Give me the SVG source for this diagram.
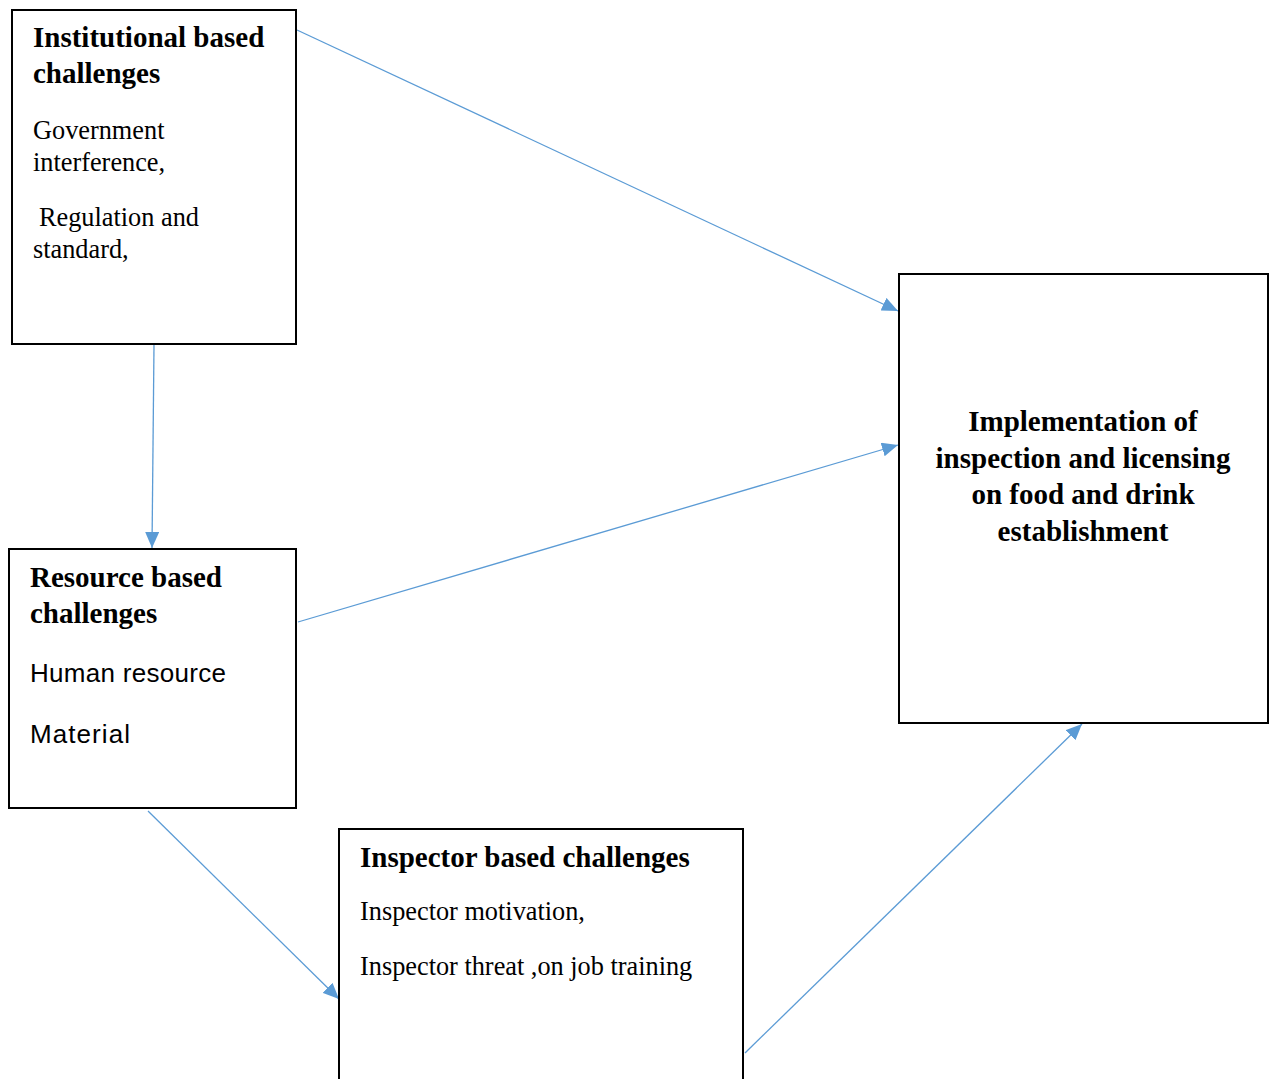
<svg xmlns="http://www.w3.org/2000/svg" width="1274" height="1079" viewBox="0 0 1274 1079">
<defs>
<marker id="arr" markerWidth="16" markerHeight="14" refX="16" refY="7" orient="auto" markerUnits="userSpaceOnUse">
<path d="M0,0 L16,7 L0,14 Z" fill="#5B9BD5"/>
</marker>
<style>
.box{fill:#fff;stroke:#000;stroke-width:2}
.h{font-family:"Liberation Serif","Times New Roman",serif;font-weight:bold;font-size:29px;fill:#000}
.b{font-family:"Liberation Serif","Times New Roman",serif;font-size:26.3px;fill:#000}
.s{font-family:"Liberation Sans",Arial,sans-serif;font-size:26px;fill:#000}
.c{stroke:#5B9BD5;stroke-width:1.3;fill:none;marker-end:url(#arr)}
</style>
</defs>
<rect width="1274" height="1079" fill="#fff"/>
<g id="connectors">
<line class="c" x1="297" y1="30" x2="898" y2="311"/>
<line class="c" x1="154" y1="345" x2="152" y2="548"/>
<line class="c" x1="298" y1="622" x2="898" y2="445"/>
<line class="c" x1="148" y1="811" x2="339" y2="999"/>
<line class="c" x1="745" y1="1053" x2="1082" y2="724"/>
</g>
<g id="institutional">
<rect class="box" x="12" y="10" width="284" height="334"/>
<text class="h" x="33" y="47">Institutional based</text>
<text class="h" x="33" y="83">challenges</text>
<text class="b" x="33" y="139">Government</text>
<text class="b" x="33" y="171">interference,</text>
<text class="b" x="39" y="226">Regulation and</text>
<text class="b" x="33" y="258">standard,</text>
</g>
<g id="resource">
<rect class="box" x="9" y="549" width="287" height="259"/>
<text class="h" x="30" y="587">Resource based</text>
<text class="h" x="30" y="623">challenges</text>
<text class="s" x="30" y="682" textLength="196">Human resource</text>
<text class="s" x="30" y="743" textLength="100">Material</text>
</g>
<g id="inspector">
<rect class="box" x="339" y="829" width="404" height="260"/>
<text class="h" x="360" y="867">Inspector based challenges</text>
<text class="b" x="360" y="920">Inspector motivation,</text>
<text class="b" x="360" y="975">Inspector threat ,on job training</text>
</g>
<g id="implementation">
<rect class="box" x="899" y="274" width="369" height="449"/>
<text class="h" x="1083" y="431" text-anchor="middle">Implementation of</text>
<text class="h" x="1083" y="468" text-anchor="middle">inspection and licensing</text>
<text class="h" x="1083" y="504" text-anchor="middle">on food and drink</text>
<text class="h" x="1083" y="541" text-anchor="middle">establishment</text>
</g>
</svg>
